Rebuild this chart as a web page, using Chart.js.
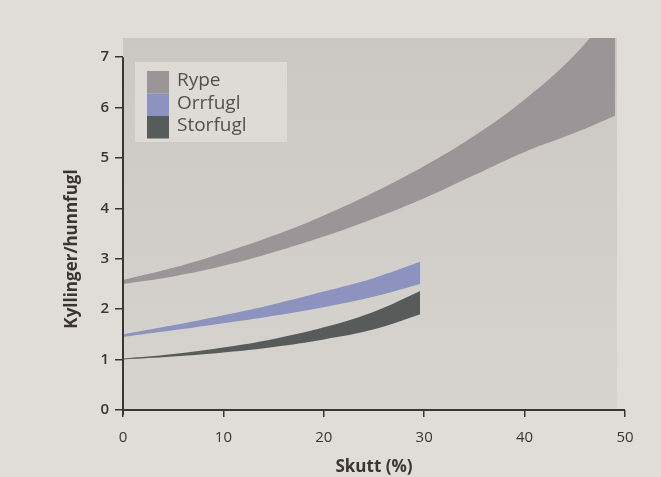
<!DOCTYPE html>
<html>
<head>
<meta charset="utf-8">
<script src="https://cdn.jsdelivr.net/npm/chart.js@4.4.0/dist/chart.umd.min.js"></script>
<style>
  html, body { margin: 0; padding: 0; background: #e0ddd8; }
  #wrap { width: 661px; height: 477px; position: relative; }
</style>
</head>
<body>
<div id="wrap"><canvas id="chart"></canvas></div>
<script>
// values (band = lower/upper edge)
const speciesNames = ["Rype", "Orrfugl", "Storfugl"];
const speciesColors = ["#9c9597", "#8b93be", "#575c5b"];

const rypeX    = [0, 5, 10, 15, 20, 25, 30, 35, 40, 45, 49];
const rypeLow  = [2.5, 2.65, 2.86, 3.13, 3.44, 3.8, 4.2, 4.66, 5.12, 5.5, 5.84];
const rypeHigh = [2.58, 2.82, 3.12, 3.46, 3.86, 4.32, 4.84, 5.44, 6.16, 7.05, 8.0];

const smallX   = [0, 5, 10, 15, 20, 25, 29.6];
const orrLow   = [1.45, 1.58, 1.72, 1.87, 2.04, 2.25, 2.5];
const orrHigh  = [1.5, 1.68, 1.88, 2.1, 2.35, 2.62, 2.94];
const storLow  = [1.0, 1.06, 1.14, 1.25, 1.4, 1.6, 1.9];
const storHigh = [1.02, 1.11, 1.24, 1.41, 1.64, 1.95, 2.36];

const xTicks = [0, 10, 20, 30, 40, 50];
const yTicks = [0, 1, 2, 3, 4, 5, 6, 7];
const panelRight = 49.2;

const ink = "#3b3531";
const pts = (xs, ys) => xs.map((x, i) => ({ x, y: ys[i] }));

function band(name, color, xs, lo, hi) {
  const base = { borderWidth: 0, borderColor: "transparent", pointRadius: 0, tension: 0.4 };
  return [
    { ...base, label: name + " nedre", data: pts(xs, lo), fill: false },
    { ...base, label: name, data: pts(xs, hi), fill: "-1", backgroundColor: color },
  ];
}

const decor = {
  id: "decor",
  beforeDraw(chart) {
    const { ctx, scales: { x, y } } = chart;
    ctx.save();
    ctx.fillStyle = "#e0ddd8";
    ctx.fillRect(0, 0, chart.width, chart.height);
    const top = y.getPixelForValue(y.max), bot = y.getPixelForValue(0);
    const g = ctx.createLinearGradient(0, top, 0, bot);
    g.addColorStop(0, "#cbc8c4");
    g.addColorStop(1, "#d7d4cf");
    ctx.fillStyle = g;
    ctx.fillRect(x.getPixelForValue(0), top, x.getPixelForValue(panelRight) - x.getPixelForValue(0), bot - top);
    ctx.restore();
  },
  afterDraw(chart) {
    const { ctx, scales: { x, y } } = chart;
    ctx.save();
    // axis lines
    ctx.strokeStyle = ink;
    ctx.lineWidth = 2;
    ctx.beginPath();
    ctx.moveTo(x.getPixelForValue(0), y.getPixelForValue(7));
    ctx.lineTo(x.getPixelForValue(0), y.getPixelForValue(0) + 5);
    ctx.moveTo(x.getPixelForValue(0) - 1, y.getPixelForValue(0));
    ctx.lineTo(x.getPixelForValue(50), y.getPixelForValue(0));
    ctx.stroke();

    // legend
    ctx.fillStyle = "#dedbd6";
    ctx.fillRect(135, 62, 152, 80);
    const rowH = 22.5;
    ctx.font = "19px 'Open Sans', sans-serif";
    ctx.textBaseline = "middle";
    speciesNames.forEach((n, i) => {
      ctx.fillStyle = speciesColors[i];
      ctx.fillRect(147, 71 + i * rowH, 22, rowH);
      ctx.fillStyle = "#54504d";
      ctx.fillText(n, 177, 81 + i * rowH);
    });

    // y title
    ctx.translate(72, 249);
    ctx.rotate(-Math.PI / 2);
    ctx.textAlign = "center";
    ctx.fillStyle = ink;
    ctx.font = "bold 17px 'Open Sans', sans-serif";
    ctx.fillText("Kyllinger/hunnfugl", 0, 0);
    ctx.restore();
  }
};

new Chart(document.getElementById("chart"), {
  type: "line",
  data: {
    datasets: [
      ...band(speciesNames[0], speciesColors[0], rypeX, rypeLow, rypeHigh),
      ...band(speciesNames[1], speciesColors[1], smallX, orrLow, orrHigh),
      ...band(speciesNames[2], speciesColors[2], smallX, storLow, storHigh),
    ],
  },
  options: {
    responsive: true, maintainAspectRatio: false, animation: false,
    layout: { padding: { left: 0, right: 36, top: 38, bottom: 0 } },
    plugins: { legend: { display: false }, tooltip: { enabled: false } },
    scales: {
      x: {
        type: "linear", min: 0, max: 50,
        afterBuildTicks: a => { a.ticks = xTicks.map(v => ({ value: v })); },
        afterFit: a => { a.height = 67; },
        border: { display: false },
        grid: { drawOnChartArea: false, drawTicks: true, tickLength: 7, color: ink, lineWidth: 1.5 },
        ticks: { color: ink, padding: 12, font: { family: "'Open Sans', sans-serif", size: 15 } },
        title: { display: true, text: "Skutt (%)", color: ink, padding: { top: 0, bottom: 0 },
                 font: { family: "'Open Sans', sans-serif", size: 17, weight: "bold" } },
      },
      y: {
        min: 0, max: 7.38,
        afterBuildTicks: a => { a.ticks = yTicks.map(v => ({ value: v })); },
        afterFit: a => { a.width = 123; },
        border: { display: false },
        grid: { drawOnChartArea: false, drawTicks: true, tickLength: 8, color: ink, lineWidth: 1.5 },
        ticks: { color: ink, padding: 6, font: { family: "'Open Sans', sans-serif", size: 15, weight: "600" } },
      },
    },
  },
  plugins: [decor],
});
</script>
</body>
</html>
